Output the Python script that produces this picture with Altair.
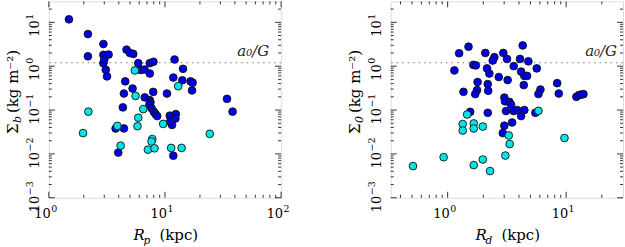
import altair as alt
import pandas as pd

FONT = "DejaVu Serif"
BLUE = "#0000e6"
CYAN = "#00e5e5"
W, H = 233, 197
A0G = 1.2

# ---------------- data ----------------
# left panel: R_p (kpc) vs Sigma_b (kg m^-2)
rp_blue = [1.49, 2.17, 2.17, 2.95, 2.95, 3.27, 2.95, 3.0, 3.09, 3.17, 4.67, 4.99, 5.33,
           5.89, 6.2, 6.67, 7.4, 7.96, 7.4, 4.55, 5.26, 4.43, 6.7, 7.92, 7.4, 7.5, 7.35,
           7.66, 8.0, 8.28, 8.57, 10.4, 12.1, 14.3, 11.8, 14.1, 16.6, 17.3, 17.1, 34.2,
           38.2, 11.0, 12.4, 12.3, 11.5, 11.1, 11.8, 4.34, 3.76, 4.43, 3.96]
sb_blue = [11.7, 5.4, 1.68, 3.2, 1.81, 1.84, 1.17, 1.4, 0.83, 0.585, 2.38, 2.0, 1.9,
           1.17, 0.82, 0.84, 1.17, 1.26, 0.68, 0.45, 0.31, 0.238, 0.194, 0.259, 0.168,
           0.15, 0.135, 0.11, 0.092, 0.081, 0.073, 0.238, 1.42, 0.87, 0.55, 0.475, 0.45,
           0.42, 0.28, 0.18, 0.092, 0.0743, 0.081, 0.064, 0.0458, 0.0544, 0.0091, 0.115,
           0.0379, 0.038, 0.0107]
rp_cyan = [5.5, 5.58, 13.0, 24.3, 9.65, 11.3, 13.9, 2.19, 1.97, 3.89, 4.15, 5.89, 5.8,
           6.5, 7.77, 7.66, 7.13, 8.13]
sb_cyan = [0.80, 0.21, 0.35, 0.0287, 0.0483, 0.0137, 0.0137, 0.092, 0.0298, 0.0435,
           0.0154, 0.067, 0.0428, 0.105, 0.0218, 0.0192, 0.0125, 0.0134]

# right panel: R_d (kpc) vs Sigma_0 (kg m^-2)
rd_blue = [1.50, 1.25, 1.14, 2.08, 2.48, 2.40, 2.95, 3.17, 4.30, 4.08, 4.8, 3.61, 4.17,
           4.44, 4.68, 5.65, 1.65, 1.73, 2.15, 2.25, 2.7, 3.21, 4.39, 1.79, 2.18, 2.2,
           1.77, 1.71, 1.36, 6.07, 5.84, 3.01, 3.05, 3.32, 3.43, 3.11, 3.61, 3.86, 4.44,
           4.17, 3.5, 3.01, 2.92, 2.18, 1.55, 5.5, 8.4, 8.67, 12.2, 12.8, 13.4, 14.0]
s0_blue = [2.78, 1.97, 0.80, 2.0, 1.6, 1.34, 2.0, 1.46, 2.97, 1.46, 1.29, 1.0, 0.75,
           0.6, 0.6, 0.89, 1.07, 1.04, 0.89, 0.68, 0.565, 0.483, 0.37, 0.435, 0.39, 0.275,
           0.285, 0.231, 0.26, 0.294, 0.232, 0.192, 0.158, 0.153, 0.133, 0.095, 0.095,
           0.1, 0.1, 0.073, 0.052, 0.044, 0.0298, 0.0865, 0.091, 0.0865, 0.41, 0.238,
           0.2, 0.218, 0.225, 0.23]
rd_cyan = [0.51, 0.925, 1.46, 1.34, 1.34, 1.66, 1.66, 1.98, 1.66, 1.98, 2.28, 3.07,
           3.28, 3.34, 5.84, 9.68]
s0_cyan = [0.00527, 0.0084, 0.079, 0.048, 0.034, 0.0495, 0.038, 0.042, 0.00555,
           0.00745, 0.00406, 0.00917, 0.0263, 0.0168, 0.096, 0.023]

# axis ticks
y_major = [0.001, 0.01, 0.1, 1, 10]
y_minor = [m * 10 ** k for k in range(-3, 1) for m in range(2, 10)] + [20]
xl_major = [1, 10, 100]
xl_minor = [m * 10 ** k for k in range(0, 2) for m in range(2, 10)]
xr_major = [1, 10]
xr_minor = [0.4, 0.5, 0.6, 0.7, 0.8, 0.9] + list(range(2, 10)) + [20]

EXP = "replace('' + round(log(datum.v)/LN10), '-', '−')"

one = pd.DataFrame({"k": [0]})


def txt(s, x, y, size=15, style="normal", angle=0):
    return alt.Chart(one).mark_text(
        text=s, font=FONT, fontSize=size, fontStyle=style, angle=angle,
        align="left", baseline="alphabetic", color="black"
    ).encode(x=alt.value(x), y=alt.value(y))


def panel(xb, yb, xc, yc, xdomain, xmajor, xminor, sym_sub, x_sub, lab_off):
    xs = alt.Scale(type="log", domain=xdomain, nice=False)
    ys = alt.Scale(type="log", domain=[0.001, 30], nice=False)
    df = pd.DataFrame({
        "x": list(xb) + list(xc),
        "y": list(yb) + list(yc),
        "grp": ["high"] * len(xb) + ["low"] * len(xc),
    })
    layers = []
    # dotted a0/G line and label
    layers.append(alt.Chart(one).mark_rule(strokeDash=[1.5, 4], color="#777",
                                           strokeWidth=1.1).encode(
        y=alt.YDatum(A0G, scale=ys, axis=None)))
    layers.append(alt.Chart(one).mark_text(
        text="a₀/G", font=FONT, fontSize=15, fontStyle="italic", align="right",
        baseline="alphabetic", dy=-7, color="#222").encode(
        x=alt.value(W - lab_off), y=alt.YDatum(A0G, scale=ys, axis=None)))
    # points
    layers.append(alt.Chart(df).mark_circle(size=60, opacity=1, stroke="#111",
                                            strokeWidth=0.9).encode(
        x=alt.X("x:Q", scale=xs, axis=None),
        y=alt.Y("y:Q", scale=ys, axis=None),
        color=alt.Color("grp:N", scale=alt.Scale(domain=["high", "low"],
                                                 range=[BLUE, CYAN]), legend=None),
    ))
    # inward ticks on all four sides
    for vals, L in ((xmajor, 6), (xminor, 3)):
        d = pd.DataFrame({"v": vals})
        for y0, y1 in ((H, H - L), (0, L)):
            layers.append(alt.Chart(d).mark_rule(color="black", strokeWidth=0.8).encode(
                x=alt.X("v:Q", scale=xs, axis=None),
                y=alt.value(y0), y2=alt.value(y1)))
    for vals, L in ((y_major, 6), (y_minor, 3)):
        d = pd.DataFrame({"v": vals})
        for x0, x1 in ((0, L), (W, W - L)):
            layers.append(alt.Chart(d).mark_rule(color="black", strokeWidth=0.8).encode(
                y=alt.Y("v:Q", scale=ys, axis=None),
                x=alt.value(x0), x2=alt.value(x1)))
    # tick labels 10^k (mantissa + raised exponent)
    dx_ = pd.DataFrame({"v": xmajor})
    layers.append(alt.Chart(dx_).mark_text(
        text="10", font=FONT, fontSize=13, align="right", baseline="alphabetic",
        dx=2, color="black").encode(
        x=alt.X("v:Q", scale=xs, axis=None), y=alt.value(H + 20)))
    layers.append(alt.Chart(dx_).transform_calculate(e=EXP).mark_text(
        font=FONT, fontSize=9.5, align="left", baseline="alphabetic",
        dx=2.5, color="black").encode(
        x=alt.X("v:Q", scale=xs, axis=None), y=alt.value(H + 14),
        text="e:N"))
    dy_ = pd.DataFrame({"v": y_major})
    layers.append(alt.Chart(dy_).mark_text(
        text="10", font=FONT, fontSize=13, align="right", baseline="alphabetic",
        angle=270, dx=2, color="black").encode(
        y=alt.Y("v:Q", scale=ys, axis=None), x=alt.value(-10)))
    layers.append(alt.Chart(dy_).transform_calculate(e=EXP).mark_text(
        font=FONT, fontSize=9.5, align="left", baseline="alphabetic",
        angle=270, dx=2.5, color="black").encode(
        y=alt.Y("v:Q", scale=ys, axis=None), x=alt.value(-16),
        text="e:N"))
    # axis titles built from text pieces (for subscripts)
    layers.append(txt("Σ", -31, 133, 15, angle=270))
    layers.append(txt(sym_sub, -27.5, 122, 11, style="italic", angle=270))
    layers.append(txt("(kg m⁻²)", -31, 112, 15, angle=270))
    layers.append(txt("R", 85, 239.5, 15, style="italic"))
    layers.append(txt(x_sub, 95, 243, 10.5, style="italic"))
    layers.append(txt("(kpc)", 111, 239.5, 15))
    return alt.layer(*layers).properties(width=W, height=H)


left = panel(rp_blue, sb_blue, rp_cyan, sb_cyan, [1, 100], xl_major, xl_minor,
             "b", "p", 12)
right = panel(rd_blue, s0_blue, rd_cyan, s0_cyan, [0.331, 30.2], xr_major, xr_minor,
              "0", "d", 6)

chart = alt.hconcat(left, right, spacing=110, bounds="flush").properties(
    padding={"left": 5, "top": 0, "right": 0, "bottom": 0},
    background="white",
).configure_view(stroke="#222", strokeWidth=1.2).configure(font=FONT)

chart.save("out.html", embed_options={"renderer": "svg", "actions": False})
